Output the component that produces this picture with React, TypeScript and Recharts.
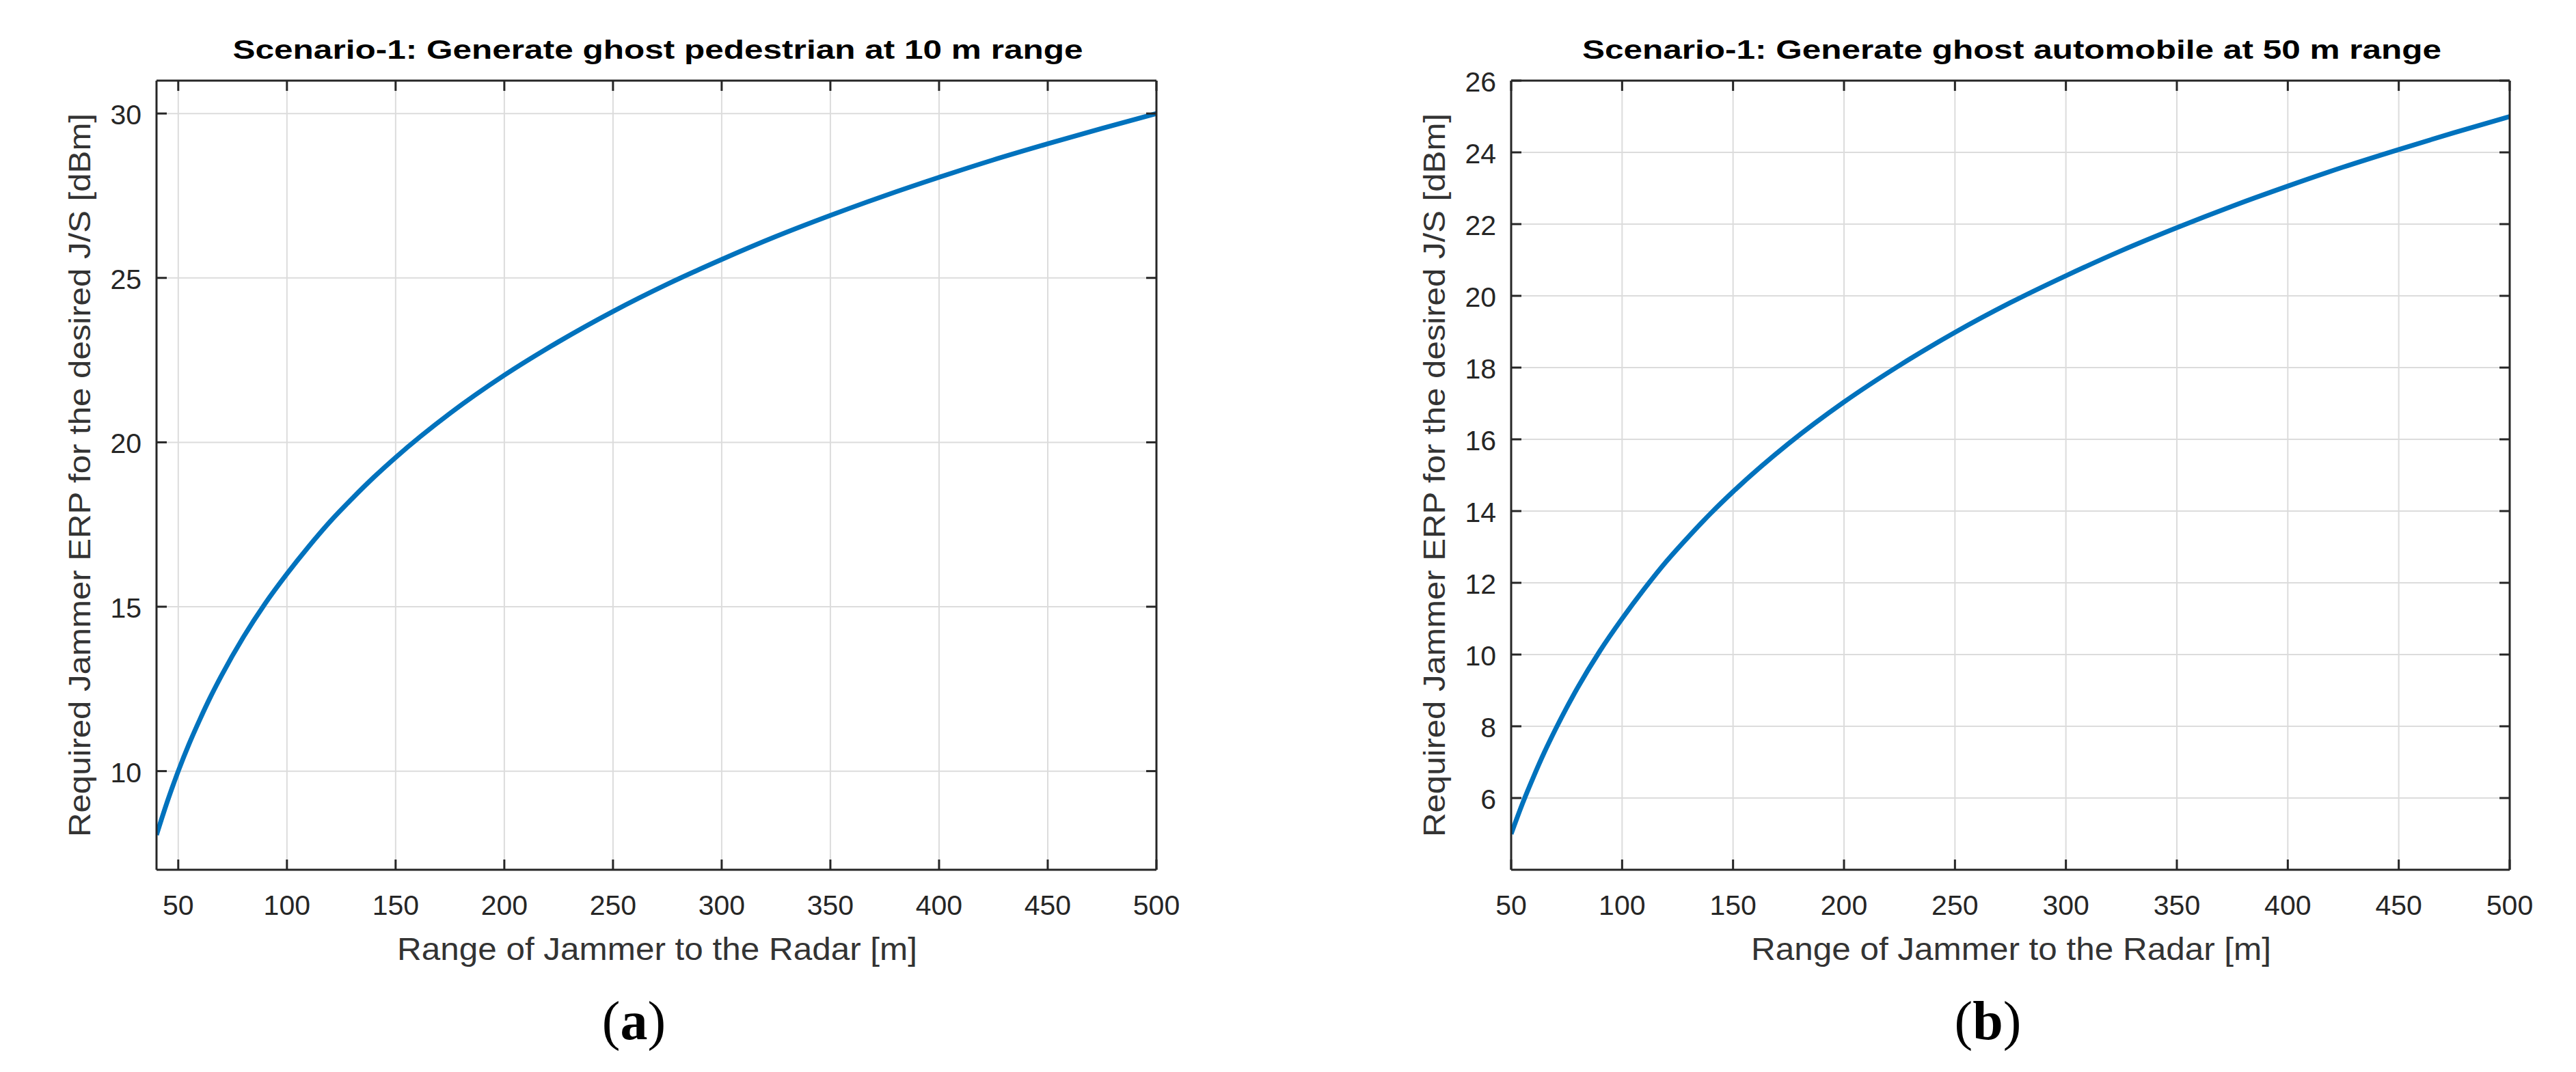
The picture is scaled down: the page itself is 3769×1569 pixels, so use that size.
import React from 'react';
import { LineChart, Line, XAxis, YAxis, CartesianGrid } from 'recharts';

// ---------- data ----------
const RANGE_A = [40, 45, 50, 55, 60, 65, 70, 80, 90, 100, 110, 120, 130, 140, 150, 175, 200, 225, 250, 275, 300, 325, 350, 375, 400, 425, 450, 475, 500];
const ERP_A = [8.06, 9.08, 10.0, 10.83, 11.58, 12.28, 12.92, 14.08, 15.1, 16.0, 16.83, 17.6, 18.29, 18.94, 19.54, 20.88, 22.04, 23.06, 23.98, 24.81, 25.56, 26.26, 26.9, 27.5, 28.06, 28.59, 29.08, 29.55, 30.0];

const RANGE_B = [50, 55, 60, 65, 70, 80, 90, 100, 110, 120, 130, 140, 150, 175, 200, 225, 250, 275, 300, 325, 350, 375, 400, 425, 450, 475, 500];
const ERP_B = [5.0, 5.83, 6.58, 7.28, 7.92, 9.08, 10.1, 11.0, 11.83, 12.6, 13.29, 13.94, 14.54, 15.88, 17.04, 18.06, 18.98, 19.81, 20.56, 21.26, 21.9, 22.5, 23.06, 23.59, 24.08, 24.55, 25.0];

const X_TICKS = [50, 100, 150, 200, 250, 300, 350, 400, 450, 500];
const Y_TICKS_A = [10, 15, 20, 25, 30];
const Y_TICKS_B = [6, 8, 10, 12, 14, 16, 18, 20, 22, 24, 26];

const TITLE_A = 'Scenario-1: Generate ghost pedestrian at 10 m range';
const TITLE_B = 'Scenario-1: Generate ghost automobile at 50 m range';
const X_LABEL = 'Range of Jammer to the Radar [m]';
const Y_LABEL = 'Required Jammer ERP for the desired J/S [dBm]';

// ---------- styling ----------
const FONT = '"Liberation Sans", Arial, Helvetica, sans-serif';
const SERIF = '"Liberation Serif", "Times New Roman", Times, serif';
const AX = '#262626';
const GRID = '#dcdcdc';
const BLUE = '#0072BD';
const TICK = 15;
const H = 1569;
const PLOT_TOP = 118;
const PLOT_BOTTOM = 1273;

const BottomTick = (props: any) => {
  const { x, y, payload } = props;
  return (
    <g>
      <line x1={x} y1={y} x2={x} y2={y - TICK} stroke={AX} strokeWidth={3} />
      <text x={x} y={y + 66} textAnchor="middle" fontSize={41} fill={AX} fontFamily={FONT}>
        {payload.value}
      </text>
    </g>
  );
};

const TopTick = (props: any) => {
  const { x, y } = props;
  return <line x1={x} y1={y} x2={x} y2={y + TICK} stroke={AX} strokeWidth={3} />;
};

const LeftTick = (props: any) => {
  const { x, y, payload } = props;
  return (
    <g>
      <line x1={x} y1={y} x2={x + TICK} y2={y} stroke={AX} strokeWidth={3} />
      <text x={x - 22} y={y + 16} textAnchor="end" fontSize={41} fill={AX} fontFamily={FONT}>
        {payload.value}
      </text>
    </g>
  );
};

const RightTick = (props: any) => {
  const { x, y } = props;
  return <line x1={x} y1={y} x2={x - TICK} y2={y} stroke={AX} strokeWidth={3} />;
};

type PanelProps = {
  left: number;
  width: number;
  plotLeft: number;
  plotRight: number;
  xs: number[];
  ys: number[];
  xDomain: [number, number];
  yDomain: [number, number];
  yTicks: number[];
  title: string;
  titleLen: number;
  letter: string;
};

function Panel(p: PanelProps) {
  const data = p.xs.map((x, i) => ({ x, erp: p.ys[i] }));
  const pl = p.plotLeft - p.left;
  const pr = p.plotRight - p.left;
  const cx = (pl + pr) / 2;
  const cy = (PLOT_TOP + PLOT_BOTTOM) / 2;
  const yLabX = pl - 97;

  const xLabelContent = () => (
    <text
      x={cx + 1}
      y={1405}
      textAnchor="middle"
      fontSize={46}
      fill="#333"
      fontFamily={FONT}
      textLength={761}
      lengthAdjust="spacingAndGlyphs"
    >
      {X_LABEL}
    </text>
  );

  const yLabelContent = () => (
    <g>
      <text
        x={yLabX}
        y={cy}
        transform={`rotate(-90, ${yLabX}, ${cy})`}
        textAnchor="middle"
        fontSize={44}
        fill="#333"
        fontFamily={FONT}
        textLength={1059}
        lengthAdjust="spacingAndGlyphs"
      >
        {Y_LABEL}
      </text>
      <text
        x={cx + 2}
        y={86}
        textAnchor="middle"
        fontSize={39}
        fontWeight="bold"
        fill="#000"
        fontFamily={FONT}
        textLength={p.titleLen}
        lengthAdjust="spacingAndGlyphs"
      >
        {p.title}
      </text>
      <text x={cx - 33} y={1521} textAnchor="middle" fontSize={80} fill="#000" fontFamily={SERIF}>
        (<tspan fontWeight="bold">{p.letter}</tspan>)
      </text>
    </g>
  );

  const axisLine = { stroke: AX, strokeWidth: 3 };

  return (
    <div style={{ position: 'absolute', left: p.left, top: 0, width: p.width, height: H }}>
      <LineChart
        width={p.width}
        height={H}
        data={data}
        margin={{ top: PLOT_TOP - 1, right: p.width - pr - 1, bottom: 0, left: 0 }}
      >
        <CartesianGrid stroke={GRID} strokeWidth={2} />
        <XAxis
          type="number"
          dataKey="x"
          domain={p.xDomain}
          ticks={X_TICKS}
          allowDataOverflow
          interval={0}
          height={H - PLOT_BOTTOM}
          axisLine={axisLine}
          tickLine={false}
          tickSize={0}
          tickMargin={0}
          tick={<BottomTick />}
          label={{ content: xLabelContent }}
        />
        <XAxis
          xAxisId="top"
          orientation="top"
          type="number"
          dataKey="x"
          domain={p.xDomain}
          ticks={X_TICKS}
          allowDataOverflow
          interval={0}
          height={1}
          axisLine={axisLine}
          tickLine={false}
          tickSize={0}
          tickMargin={0}
          tick={<TopTick />}
        />
        <YAxis
          type="number"
          domain={p.yDomain}
          ticks={p.yTicks}
          allowDataOverflow
          interval={0}
          width={pl}
          axisLine={axisLine}
          tickLine={false}
          tickSize={0}
          tickMargin={0}
          tick={<LeftTick />}
          label={{ content: yLabelContent }}
        />
        <YAxis
          yAxisId="right"
          orientation="right"
          type="number"
          domain={p.yDomain}
          ticks={p.yTicks}
          allowDataOverflow
          interval={0}
          width={1}
          axisLine={axisLine}
          tickLine={false}
          tickSize={0}
          tickMargin={0}
          tick={<RightTick />}
        />
        <Line
          type="monotone"
          dataKey="erp"
          stroke={BLUE}
          strokeWidth={7}
          dot={false}
          activeDot={false}
          isAnimationActive={false}
        />
      </LineChart>
    </div>
  );
}

export default function App() {
  return (
    <div style={{ position: 'absolute', left: 0, top: 0, width: 3769, height: H, background: '#fff' }}>
      <Panel
        left={0}
        width={1884}
        plotLeft={229}
        plotRight={1692}
        xs={RANGE_A}
        ys={ERP_A}
        xDomain={[40, 500]}
        yDomain={[7, 31]}
        yTicks={Y_TICKS_A}
        title={TITLE_A}
        titleLen={1244}
        letter="a"
      />
      <Panel
        left={1884}
        width={1885}
        plotLeft={2211}
        plotRight={3672}
        xs={RANGE_B}
        ys={ERP_B}
        xDomain={[50, 500]}
        yDomain={[4, 26]}
        yTicks={Y_TICKS_B}
        title={TITLE_B}
        titleLen={1257}
        letter="b"
      />
    </div>
  );
}
